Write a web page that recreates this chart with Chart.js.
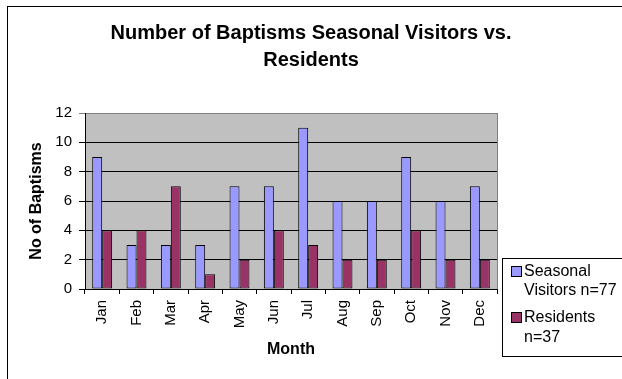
<!DOCTYPE html>
<html lang="en">
<head>
    <meta charset="UTF-8">
    <title>Number of Baptisms Seasonal Visitors vs. Residents</title>
    <script src="https://cdn.jsdelivr.net/npm/chart.js"></script>
    <style>
        body { margin: 0; background: #fff; }
        canvas { display: block; }
    </style>
</head>
<body>
    <canvas id="baptismsChart" width="622" height="379"></canvas>

    <script>
        // Data
        const months = ['Jan', 'Feb', 'Mar', 'Apr', 'May', 'Jun', 'Jul', 'Aug', 'Sep', 'Oct', 'Nov', 'Dec'];
        const seasonalVisitors = [9, 3, 3, 3, 7, 7, 11, 6, 6, 9, 6, 7];
        const residents = [4, 4, 7, 1, 2, 4, 3, 2, 2, 4, 2, 2];
        const legendLines = [['Seasonal', 'Visitors n=77'], ['Residents', 'n=37']];

        const fontFamily = '"Liberation Sans", Arial, sans-serif';
        const visitorColor = '#9999FF';
        const residentColor = '#993366';

        // Gray plot area, outer frame and the boxed legend
        const excelLook = {
            id: 'excelLook',
            beforeDraw(chart) {
                const { ctx, chartArea: a } = chart;
                ctx.save();
                ctx.fillStyle = '#C0C0C0';
                ctx.fillRect(a.left, a.top, a.right - a.left, a.bottom - a.top);
                ctx.strokeStyle = '#808080';
                ctx.lineWidth = 1;
                ctx.beginPath();
                ctx.moveTo(a.right + 0.5, a.top);
                ctx.lineTo(a.right + 0.5, a.bottom);
                ctx.stroke();
                ctx.restore();
            },
            afterDraw(chart) {
                const ctx = chart.ctx;
                ctx.save();
                // outer frame (runs off the right and bottom edges)
                ctx.strokeStyle = '#000';
                ctx.lineWidth = 1;
                ctx.strokeRect(7.5, 6.5, 640, 400);

                // legend box
                ctx.strokeRect(502.5, 258.5, 140, 98);
                const colors = [visitorColor, residentColor];
                const rows = [[272, 291], [318, 338]];
                ctx.font = '16px ' + fontFamily;
                ctx.textBaseline = 'middle';
                ctx.textAlign = 'left';
                legendLines.forEach((lines, i) => {
                    ctx.fillStyle = colors[i];
                    ctx.fillRect(511.5, rows[i][0] - 5.5, 10, 10);
                    ctx.strokeRect(511.5, rows[i][0] - 5.5, 10, 10);
                    ctx.fillStyle = '#000';
                    ctx.fillText(lines[0], 524, rows[i][0]);
                    ctx.fillText(lines[1], 524, rows[i][1]);
                });
                ctx.restore();
            }
        };

        const ctx = document.getElementById('baptismsChart').getContext('2d');
        new Chart(ctx, {
            type: 'bar',
            data: {
                labels: months,
                datasets: [
                    {
                        label: 'Seasonal Visitors n=77',
                        data: seasonalVisitors,
                        backgroundColor: visitorColor,
                        borderColor: '#000',
                        borderWidth: 1,
                        borderSkipped: false
                    },
                    {
                        label: 'Residents n=37',
                        data: residents,
                        backgroundColor: residentColor,
                        borderColor: '#000',
                        borderWidth: 1,
                        borderSkipped: false
                    }
                ]
            },
            options: {
                responsive: false,
                animation: false,
                events: [],
                layout: { padding: 0 },
                datasets: {
                    bar: { categoryPercentage: 0.58, barPercentage: 1.0 }
                },
                plugins: {
                    legend: { display: false },
                    tooltip: { enabled: false },
                    title: {
                        display: true,
                        text: ['Number of Baptisms Seasonal Visitors vs.', 'Residents'],
                        color: '#000',
                        font: { family: fontFamily, size: 20, weight: 'bold', lineHeight: 1.35 },
                        padding: { top: 19.5, bottom: 39.5 }
                    }
                },
                scales: {
                    x: {
                        grid: {
                            offset: true,
                            drawOnChartArea: false,
                            color: '#000',
                            tickLength: 5
                        },
                        border: { color: '#000' },
                        ticks: {
                            color: '#000',
                            font: { family: fontFamily, size: 15 },
                            minRotation: 90,
                            maxRotation: 90,
                            padding: 6
                        },
                        title: {
                            display: true,
                            text: 'Month',
                            color: '#000',
                            font: { family: fontFamily, size: 16, weight: 'bold' },
                            padding: { top: 4, bottom: 19.4 }
                        },
                        afterFit(scale) { scale.height = 90; }
                    },
                    y: {
                        min: 0,
                        max: 12,
                        ticks: {
                            stepSize: 2,
                            color: '#000',
                            font: { family: fontFamily, size: 15 },
                            padding: 7
                        },
                        grid: {
                            color: c => (c.tick && c.tick.value === 12 ? '#808080' : '#000'),
                            tickLength: 6
                        },
                        border: { color: '#000' },
                        title: {
                            display: true,
                            text: 'No of Baptisms',
                            color: '#000',
                            font: { family: fontFamily, size: 16, weight: 'bold' },
                            padding: { top: 27.4, bottom: 0 }
                        },
                        afterFit(scale) { scale.width = 85; }
                    },
                    // empty axis on the right that keeps room for the legend box
                    legendSpace: {
                        type: 'linear',
                        position: 'right',
                        display: true,
                        grid: { display: false },
                        border: { display: false },
                        ticks: { display: false },
                        afterFit(scale) { scale.width = 125; }
                    }
                }
            },
            plugins: [excelLook]
        });
    </script>
</body>
</html>
